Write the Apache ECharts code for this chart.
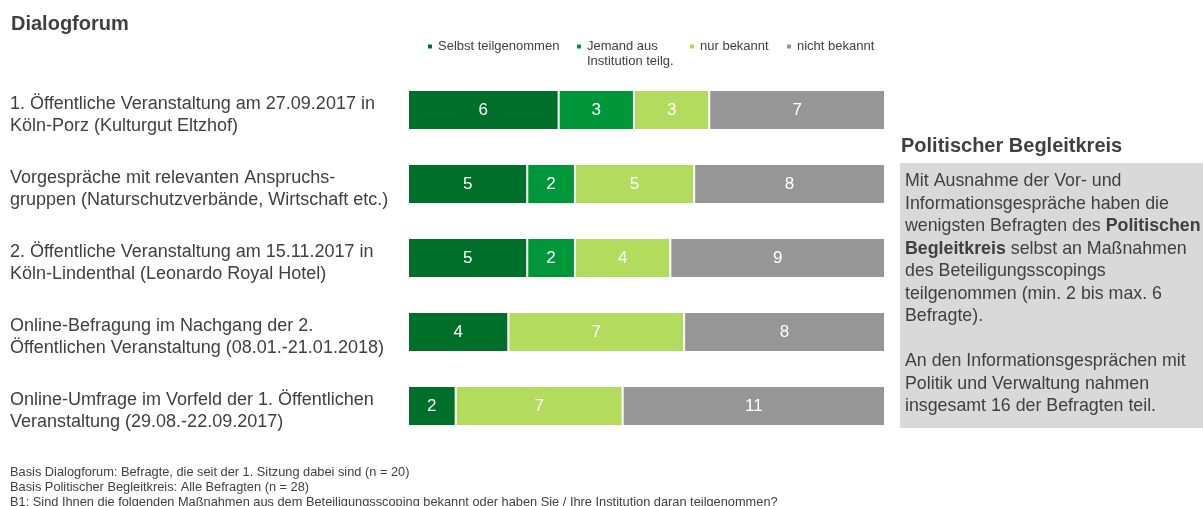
<!DOCTYPE html>
<html>
<head>
<meta charset="utf-8">
<script src="https://cdn.jsdelivr.net/npm/echarts@6/dist/echarts.min.js"></script>
<style>
  html, body { margin: 0; padding: 0; background: #fff; }
  #chart { width: 1203px; height: 506px; }
</style>
</head>
<body>
<div id="chart"></div>
<script>
const categories = [
  '1. Öffentliche Veranstaltung am 27.09.2017 in\nKöln-Porz (Kulturgut Eltzhof)',
  'Vorgespräche mit relevanten Anspruchs-\ngruppen (Naturschutzverbände, Wirtschaft etc.)',
  '2. Öffentliche Veranstaltung am 15.11.2017 in\nKöln-Lindenthal (Leonardo Royal Hotel)',
  'Online-Befragung im Nachgang der 2.\nÖffentlichen Veranstaltung (08.01.-21.01.2018)',
  'Online-Umfrage im Vorfeld der 1. Öffentlichen\nVeranstaltung (29.08.-22.09.2017)'
]
const seriesNames = ['Selbst teilgenommen', 'Jemand aus\nInstitution teilg.', 'nur bekannt', 'nicht bekannt']
const selbst = [6, 5, 5, 4, 2]
const jemand = [3, 2, 2, 0, 0]
const nurBekannt = [3, 5, 4, 7, 7]
const nichtBekannt = [7, 8, 9, 8, 11]

const colors = ['#006F2A', '#00963A', '#B3DB5D', '#969696']
const font = '"Liberation Sans", Arial, sans-serif'
const textColor = '#404040'

const allValues = [selbst, jemand, nurBekannt, nichtBekannt]
// each bar is drawn as 100 %, labels show the counts
const totals = categories.map((c, i) => allValues.reduce((s, arr) => s + arr[i], 0))

const series = allValues.map((arr, k) => ({
  name: seriesNames[k],
  type: 'bar',
  stack: 'total',
  barWidth: 40,
  itemStyle: { color: colors[k], borderColor: '#ffffff', borderWidth: 1 },
  label: {
    show: true,
    color: '#ffffff',
    fontSize: 17,
    fontFamily: font,
    formatter: p => (p.data.raw ? String(p.data.raw) : '')
  },
  data: arr.map((v, i) => ({ value: v / totals[i] * 100, raw: v }))
}))

const legendLefts = [426, 575, 688, 785]
const legends = seriesNames.map((name, k) => ({
  left: legendLefts[k],
  top: k === 1 ? 24 : 39,
  padding: 0,
  itemWidth: 6,
  itemHeight: 6,
  icon: 'rect',
  selectedMode: false,
  // blank first line keeps the marker level with "Jemand aus"
  formatter: k === 1 ? '\n{name}' : '{name}',
  data: [name],
  textStyle: { fontSize: 13, lineHeight: 15, color: textColor, fontFamily: font }
}))

const boxText = [
  'Mit Ausnahme der Vor- und',
  'Informationsgespräche haben die',
  'wenigsten Befragten des {b|Politischen}',
  '{b|Begleitkreis} selbst an Maßnahmen',
  'des Beteiligungsscopings',
  'teilgenommen (min. 2 bis max. 6',
  'Befragte).',
  '',
  'An den Informationsgesprächen mit',
  'Politik und Verwaltung nahmen',
  'insgesamt 16 der Befragten teil.'
].join('\n')

const footerText = [
  'Basis Dialogforum: Befragte, die seit der 1. Sitzung dabei sind (n = 20)',
  'Basis Politischer Begleitkreis: Alle Befragten (n = 28)',
  'B1: Sind Ihnen die folgenden Maßnahmen aus dem Beteiligungsscoping bekannt oder haben Sie / Ihre Institution daran teilgenommen?'
].join('\n')

const chart = echarts.init(document.getElementById('chart'))
chart.setOption({
  animation: false,
  textStyle: { fontFamily: font },
  title: {
    text: 'Dialogforum',
    left: 11,
    top: 14,
    padding: 0,
    textStyle: { fontSize: 20, fontWeight: 'bold', color: textColor, fontFamily: font }
  },
  legend: legends,
  grid: { left: 408, top: 73, width: 477, height: 370 },
  xAxis: { type: 'value', min: 0, max: 100, show: false },
  yAxis: {
    type: 'category',
    inverse: true,
    data: categories,
    axisLine: { show: false },
    axisTick: { show: false },
    axisLabel: {
      align: 'left',
      margin: 398,
      fontSize: 18,
      lineHeight: 22,
      color: textColor,
      fontFamily: font,
      // small empty first line pushes the two text lines a bit lower than the bar centre
      formatter: v => '{s| }\n' + v,
      rich: { s: { fontSize: 1, lineHeight: 10 } }
    }
  },
  series: series,
  graphic: [
    {
      type: 'text', left: 901, top: 136,
      style: { text: 'Politischer Begleitkreis', fontSize: 20, fontWeight: 'bold', fill: textColor, fontFamily: font }
    },
    {
      type: 'rect', left: 900, top: 163,
      shape: { width: 303, height: 265 },
      style: { fill: '#D9D9D9' }
    },
    {
      type: 'text', left: 905, top: 170,
      style: {
        text: boxText, fontSize: 17.8, lineHeight: 22.5, fill: textColor, fontFamily: font,
        rich: { b: { fontWeight: 'bold', fontSize: 17.8, lineHeight: 22.5, fill: textColor, fontFamily: font } }
      }
    },
    {
      type: 'text', left: 10, top: 465,
      style: { text: footerText, fontSize: 12.8, lineHeight: 15, fill: textColor, fontFamily: font }
    }
  ]
})
</script>
</body>
</html>
